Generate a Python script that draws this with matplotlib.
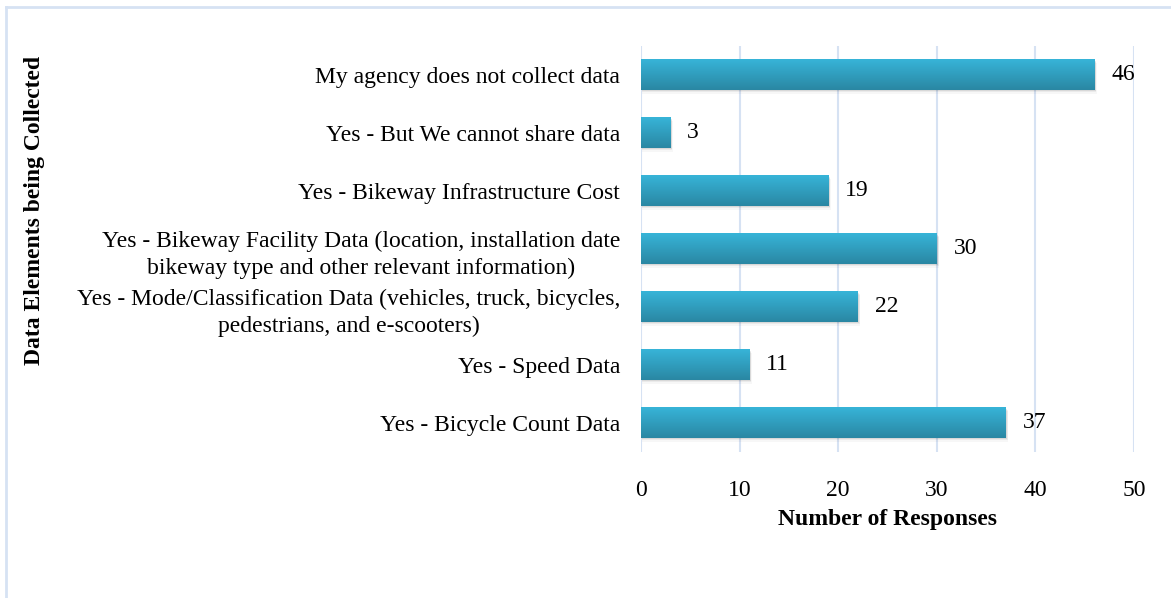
import numpy as np
import matplotlib.pyplot as plt
from matplotlib.colors import LinearSegmentedColormap
from matplotlib.lines import Line2D
from matplotlib.patches import Rectangle

plt.rcParams['font.family'] = ['Liberation Serif', 'DejaVu Serif']

# Data (bottom to top)
categories = [
    'Yes - Bicycle Count Data',
    'Yes - Speed Data',
    'Yes - Mode/Classification Data (vehicles, truck, bicycles,\npedestrians, and e-scooters)',
    'Yes - Bikeway Facility Data (location, installation date\nbikeway type and other relevant information)',
    'Yes - Bikeway Infrastructure Cost',
    'Yes - But We cannot share data',
    'My agency does not collect data',
]
responses = [37, 11, 22, 30, 19, 3, 46]
xticks = [0, 10, 20, 30, 40, 50]

fs = 17

fig = plt.figure(figsize=(11.71, 5.98), dpi=100)
ax = fig.add_axes([641 / 1171, 1 - 452 / 598, (1134 - 641) / 1171, (452 - 46) / 598])

y = np.arange(len(categories))
bars = ax.barh(y, responses, height=0.52, color='#32a6c8', zorder=3)

# gradient fill + soft shadow on each bar
cmap = LinearSegmentedColormap.from_list('bar', ['#2a87a3', '#37b4d8'])
grad = np.linspace(0, 1, 64).reshape(-1, 1)
for b in bars:
    x0, y0, w, h = b.get_x(), b.get_y(), b.get_width(), b.get_height()
    for i, a in enumerate([0.08, 0.05, 0.03]):
        ax.add_patch(Rectangle((x0 + 0.1, y0 - 0.02 - 0.02 * i), w + 0.04 * (i + 1), h,
                               color='black', alpha=a, lw=0, zorder=2))
    ax.imshow(grad, extent=(x0, x0 + w, y0, y0 + h), cmap=cmap, aspect='auto',
              origin='lower', zorder=4)
    ax.annotate(f'{int(w)}', (w, y0 + h / 2), xytext=(12, 0), textcoords='offset points',
                va='center', ha='left', fontsize=fs)

ax.set_xlim(0, 50)
ax.set_ylim(-0.5, len(categories) - 0.5)
ax.set_xticks(xticks)
ax.set_yticks(y)
ax.set_yticklabels(categories, linespacing=1.4)
for lbl in ax.get_yticklabels():
    lbl.set_multialignment('center')
ax.tick_params(axis='both', length=0, labelsize=fs)
ax.tick_params(axis='y', pad=15)
ax.tick_params(axis='x', pad=20)
ax.grid(axis='x', color='#d6e2f3', lw=1.5, zorder=0)
for s in ax.spines.values():
    s.set_visible(False)

ax.set_xlabel('Number of Responses', fontsize=fs, fontweight='bold', labelpad=6)
fig.text(35 / 1171, 1 - 210 / 598, 'Data Elements being Collected', rotation=90,
         ha='center', va='center', fontsize=fs, fontweight='bold')

# outer chart border
fig.add_artist(Line2D([6 / 1171, 6 / 1171], [0, 1 - 7 / 598], color='#d6e2f3', lw=2,
                      transform=fig.transFigure))
fig.add_artist(Line2D([6 / 1171, 1], [1 - 7 / 598, 1 - 7 / 598], color='#d6e2f3', lw=2,
                      transform=fig.transFigure))

fig.savefig('out.png', dpi=100)
